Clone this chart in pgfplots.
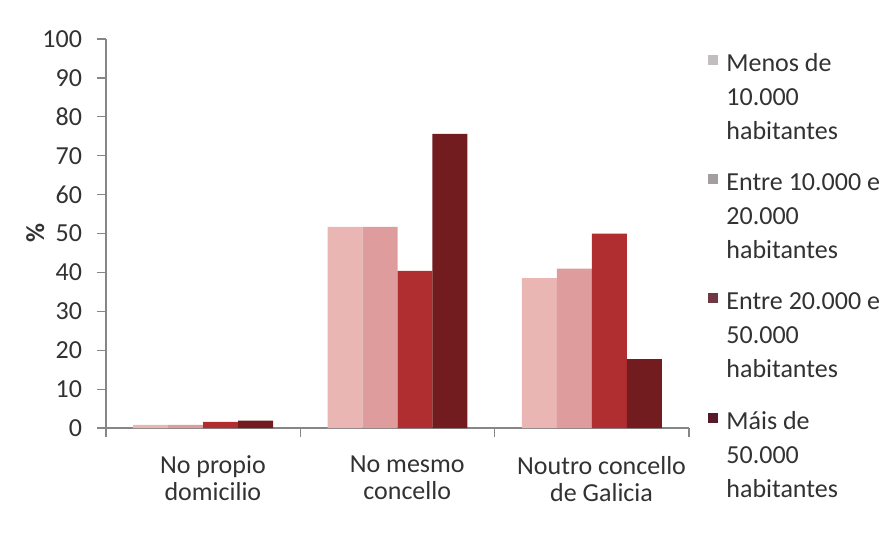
\documentclass[border=0pt]{standalone}
\usepackage{fontspec}
\setmainfont{Carlito}
\usepackage{pgfplots}
\pgfplotsset{compat=1.18}
\definecolor{cA}{RGB}{234,182,180}
\definecolor{cB}{RGB}{222,156,156}
\definecolor{cC}{RGB}{176,45,48}
\definecolor{cD}{RGB}{115,28,32}
\definecolor{lA}{RGB}{195,190,190}
\definecolor{lB}{RGB}{165,158,158}
\definecolor{lC}{RGB}{112,55,68}
\definecolor{lD}{RGB}{88,26,40}
\definecolor{axgray}{RGB}{134,134,134}
\definecolor{txt}{RGB}{50,50,50}
\begin{document}
\begin{tikzpicture}
\useasboundingbox (-53pt,-57pt) rectangle (393pt,214pt);
\begin{axis}[
  at={(0pt,0pt)}, anchor=south west,
  scale only axis, width=291.5pt, height=194.5pt,
  xmin=-0.5, xmax=2.5, ymin=0, ymax=100,
  axis x line*=bottom, axis y line*=left,
  axis line style={draw=axgray, line width=0.6pt, -},
  tick style={draw=axgray, line width=0.6pt},
  tick align=outside, major tick length=4.5pt,
  ytick={0,10,...,100},
  xtick={-0.5,0.5,1.5,2.5}, xticklabels={},
  extra x ticks={0.05,1.05,2.05},
  extra x tick labels={{No propio\\domicilio},{No mesmo\\concello},{Noutro concello\\de Galicia}},
  extra x tick style={major tick length=0pt},
  xticklabel style={align=center, font=\fontsize{13}{13.5}\selectfont, text=txt, yshift=-10.5pt},
  yticklabel style={font=\fontsize{13}{15}\selectfont, text=txt, xshift=-4pt},
  /pgf/number format/assume math mode=true,
  ylabel={\textbf{\%}},
  ylabel style={at={(axis description cs:-0.105,0.5)}, anchor=south, inner sep=0pt, font=\fontsize{13}{15}\selectfont, text=txt},
  ybar=0pt, bar width=0.18,
  legend style={draw=none, fill=none, at={(rel axis cs:1,1)}, anchor=north west, xshift=6.5pt, yshift=-5pt,
    font=\fontsize{13}{17}\selectfont, text=txt, row sep=15.5pt, column sep=0pt,
    nodes={align=left, inner xsep=4pt, inner ysep=0pt}},
  legend cell align=left,
]
\addplot[draw=none, fill=cA, legend image code/.code={\fill[lA] (0pt,16.5pt) rectangle (5pt,21.5pt);}]
  coordinates {(0,0.8) (1,51.7) (2,38.5)};
\addlegendentry{Menos de\\10.000\\habitantes}
\addplot[draw=none, fill=cB, legend image code/.code={\fill[lB] (0pt,16.5pt) rectangle (5pt,21.5pt);}]
  coordinates {(0,0.8) (1,51.7) (2,41.0)};
\addlegendentry{Entre 10.000 e\\20.000\\habitantes}
\addplot[draw=none, fill=cC, legend image code/.code={\fill[lC] (0pt,16.5pt) rectangle (5pt,21.5pt);}]
  coordinates {(0,1.6) (1,40.4) (2,50.0)};
\addlegendentry{Entre 20.000 e\\50.000\\habitantes}
\addplot[draw=none, fill=cD, legend image code/.code={\fill[lD] (0pt,16.5pt) rectangle (5pt,21.5pt);}]
  coordinates {(0,1.9) (1,75.6) (2,17.7)};
\addlegendentry{Máis de\\50.000\\habitantes}
\end{axis}
\end{tikzpicture}
\end{document}
